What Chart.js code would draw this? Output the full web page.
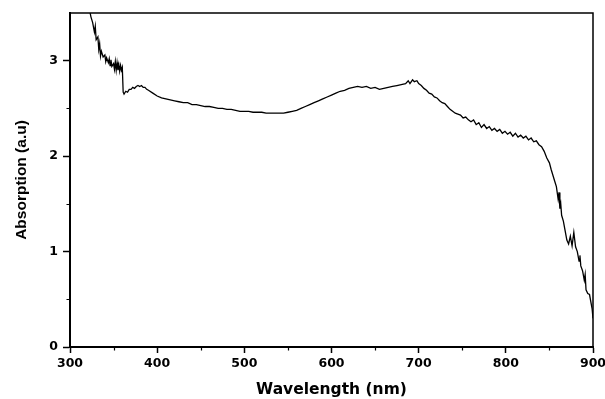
<!DOCTYPE html>
<html>
<head>
<meta charset="utf-8">
<script src="https://cdn.jsdelivr.net/npm/chart.js@4/dist/chart.umd.min.js"></script>
<style>
  html, body { margin: 0; padding: 0; background: #fff; }
  #wrap { width: 605px; height: 399px; }
</style>
</head>
<body>
<div id="wrap"><canvas id="absChart" width="605" height="399"></canvas></div>
<script>
// wavelength (nm) and absorption (a.u)
const wavelength = [
  320, 322, 324, 326, 328, 329, 330, 332, 333, 334, 335, 336, 338, 340, 341, 342, 344, 345, 346, 347,
  348, 350, 351, 352, 353, 354, 355, 356, 357, 358, 359, 360, 361, 362, 364, 366, 368, 370, 372, 374,
  376, 378, 380, 382, 384, 386, 388, 390, 395, 400, 405, 410, 415, 420, 425, 430, 435, 440, 445, 450,
  455, 460, 465, 470, 475, 480, 485, 490, 495, 500, 505, 510, 515, 520, 525, 530, 535, 540, 545, 550,
  555, 560, 565, 570, 575, 580, 585, 590, 595, 600, 605, 610, 615, 620, 625, 630, 635, 640, 645, 650,
  655, 660, 665, 670, 675, 680, 685, 688, 690, 693, 695, 698, 700, 703, 706, 709, 712, 715, 718, 721,
  724, 727, 730, 733, 736, 739, 742, 745, 748, 751, 754, 757, 760, 763, 766, 769, 772, 775, 778, 781,
  784, 787, 790, 793, 796, 799, 802, 805, 808, 811, 814, 817, 820, 823, 826, 829, 832, 835, 838, 841,
  844, 847, 850, 852, 854, 856, 858, 860, 861, 862, 863, 864, 866, 868, 870, 872, 874, 876, 878, 880,
  882, 884, 885, 886, 888, 890, 891, 892, 894, 896, 898, 899, 900
];
const absorption = [
  3.62, 3.55, 3.46, 3.40, 3.30, 3.36, 3.22, 3.25, 3.12, 3.18, 3.05, 3.10, 3.04, 3.06, 2.99, 3.03, 2.98, 3.02, 2.95, 3.01,
  2.94, 2.97, 2.91, 2.99, 2.90, 2.98, 2.90, 2.96, 2.89, 2.95, 2.90, 2.93, 2.67, 2.65, 2.68, 2.67, 2.70, 2.70, 2.72, 2.71,
  2.73, 2.74, 2.73, 2.74, 2.72, 2.72, 2.70, 2.69, 2.66, 2.63, 2.61, 2.60, 2.59, 2.58, 2.57, 2.56, 2.56, 2.54, 2.54, 2.53,
  2.52, 2.52, 2.51, 2.50, 2.50, 2.49, 2.49, 2.48, 2.47, 2.47, 2.47, 2.46, 2.46, 2.46, 2.45, 2.45, 2.45, 2.45, 2.45, 2.46,
  2.47, 2.48, 2.50, 2.52, 2.54, 2.56, 2.58, 2.60, 2.62, 2.64, 2.66, 2.68, 2.69, 2.71, 2.72, 2.73, 2.72, 2.73, 2.71, 2.72,
  2.70, 2.71, 2.72, 2.73, 2.74, 2.75, 2.76, 2.79, 2.76, 2.80, 2.78, 2.79, 2.76, 2.74, 2.71, 2.69, 2.66, 2.65, 2.62, 2.61,
  2.58, 2.56, 2.55, 2.52, 2.49, 2.47, 2.45, 2.44, 2.43, 2.40, 2.41, 2.38, 2.36, 2.38, 2.33, 2.35, 2.30, 2.33, 2.29, 2.31,
  2.27, 2.29, 2.26, 2.28, 2.24, 2.26, 2.23, 2.25, 2.21, 2.24, 2.20, 2.22, 2.19, 2.21, 2.17, 2.19, 2.15, 2.16, 2.12, 2.10,
  2.05, 1.98, 1.93, 1.86, 1.80, 1.74, 1.68, 1.55, 1.62, 1.45, 1.50, 1.38, 1.32, 1.22, 1.12, 1.08, 1.16, 1.06, 1.20, 1.05,
  1.00, 0.90, 0.96, 0.85, 0.80, 0.70, 0.76, 0.60, 0.56, 0.55, 0.45, 0.40, 0.30
];

const xTicks = [300, 400, 500, 600, 700, 800, 900];
const yTicks = [0, 1, 2, 3];
const xMinorTicks = [350, 450, 550, 650, 750, 850];
const yMinorTicks = [0.5, 1.5, 2.5];

const tickFont = { family: 'DejaVu Sans', weight: 'bold', size: 12.5 };

// box on top/right plus the short minor ticks
const framePlugin = {
    id: 'frame',
    afterDraw(chart) {
        const { ctx, chartArea: a, scales } = chart;
        ctx.save();
        ctx.strokeStyle = '#000';
        ctx.lineWidth = 1.5;
        ctx.beginPath();
        ctx.moveTo(a.left, a.top);
        ctx.lineTo(a.right, a.top);
        ctx.lineTo(a.right, a.bottom);
        ctx.stroke();
        ctx.lineWidth = 1.2;
        ctx.beginPath();
        xMinorTicks.forEach(v => {
            const px = Math.round(scales.x.getPixelForValue(v)) + 0.5;
            ctx.moveTo(px, a.bottom);
            ctx.lineTo(px, a.bottom + 3.5);
        });
        yMinorTicks.forEach(v => {
            const py = Math.round(scales.y.getPixelForValue(v)) + 0.5;
            ctx.moveTo(a.left, py);
            ctx.lineTo(a.left - 3.5, py);
        });
        ctx.stroke();
        ctx.restore();
    }
};

new Chart(document.getElementById('absChart'), {
    type: 'line',
    data: {
        datasets: [{
            data: wavelength.map((w, i) => ({ x: w, y: absorption[i] })),
            borderColor: '#000',
            borderWidth: 1.3,
            pointRadius: 0,
            tension: 0,
        }]
    },
    options: {
        responsive: false,
        animation: false,
        devicePixelRatio: 1,
        layout: { padding: { top: 13, right: 12, left: 0, bottom: 0 } },
        plugins: {
            legend: { display: false },
            tooltip: { enabled: false },
        },
        scales: {
            x: {
                type: 'linear',
                min: 300,
                max: 900,
                afterBuildTicks: scale => { scale.ticks = xTicks.map(v => ({ value: v })); },
                afterFit: scale => {
                    scale.height = 52;
                    scale.paddingLeft = 0;
                    scale.paddingRight = 0;
                },
                border: { display: true, color: '#000', width: 2 },
                grid: { drawOnChartArea: false, drawTicks: true, tickLength: 6, tickColor: '#000', tickWidth: 1.5 },
                ticks: { color: '#000', font: tickFont, padding: 3, maxRotation: 0, autoSkip: false },
                title: {
                    display: true,
                    text: 'Wavelength (nm)',
                    color: '#000',
                    font: { family: 'DejaVu Sans', weight: 'bold', size: 15.5 },
                    padding: { top: 0, bottom: 0 },
                },
            },
            y: {
                type: 'linear',
                min: 0,
                max: 3.5,
                afterBuildTicks: scale => { scale.ticks = yTicks.map(v => ({ value: v })); },
                afterFit: scale => {
                    scale.width = 70;
                    scale.paddingTop = 0;
                    scale.paddingBottom = 0;
                },
                border: { display: true, color: '#000', width: 2 },
                grid: { drawOnChartArea: false, drawTicks: true, tickLength: 7, tickColor: '#000', tickWidth: 1.5 },
                ticks: { color: '#000', font: tickFont, padding: 5 },
                title: {
                    display: true,
                    text: 'Absorption (a.u)',
                    color: '#000',
                    font: { family: 'Liberation Sans', weight: 'bold', size: 15.5 },
                    padding: { top: 12, bottom: 0 },
                },
            },
        },
    },
    plugins: [framePlugin],
});
</script>
</body>
</html>
